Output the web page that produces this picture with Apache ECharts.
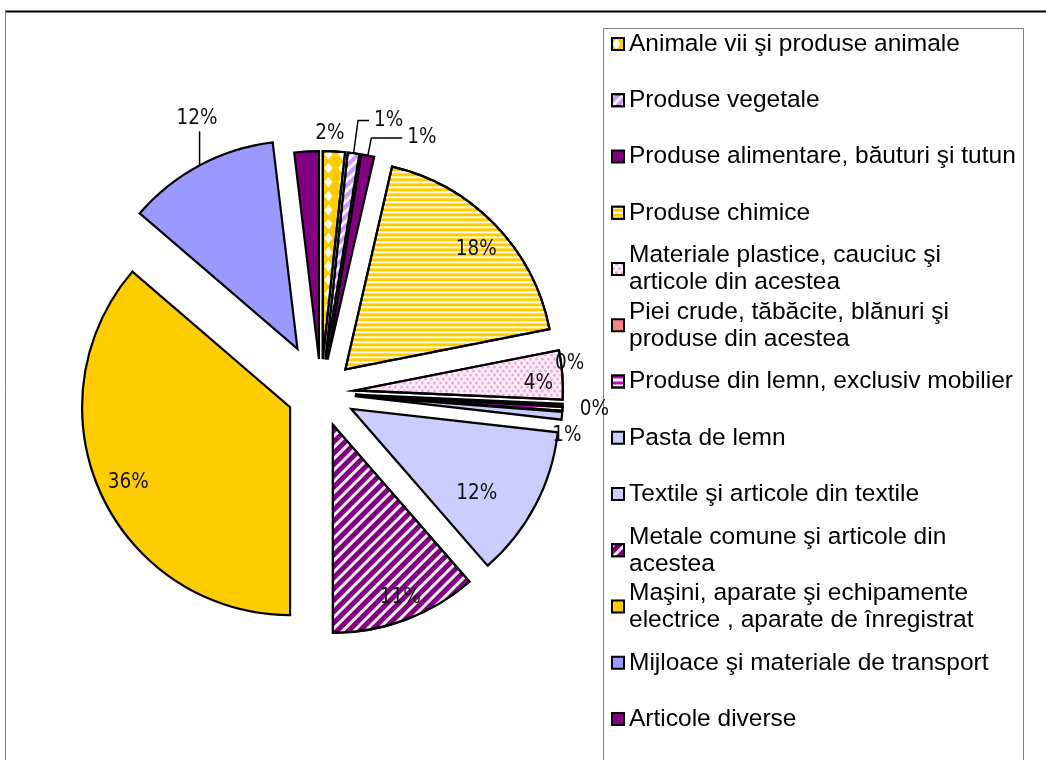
<!DOCTYPE html>
<html>
<head>
<meta charset="utf-8">
<script src="https://cdn.jsdelivr.net/npm/echarts@6/dist/echarts.min.js"></script>
<style>
  html, body { margin: 0; padding: 0; background: #ffffff; }
  #chart { width: 1046px; height: 760px; }
</style>
</head>
<body>
<div id="chart"></div>
<script>
// Commodity groups and their share of the total (%)
const categories = [
  'Animale vii şi produse animale',
  'Produse vegetale',
  'Produse alimentare, băuturi şi tutun',
  'Produse chimice',
  'Materiale plastice, cauciuc şi\narticole din acestea',
  'Piei crude, tăbăcite, blănuri şi\nproduse din acestea',
  'Produse din lemn, exclusiv mobilier',
  'Pasta de lemn',
  'Textile şi articole din textile',
  'Metale comune şi articole din\nacestea',
  'Maşini, aparate şi echipamente\nelectrice , aparate de înregistrat',
  'Mijloace şi materiale de transport',
  'Articole diverse'
];
const shares = [1.7, 0.9, 1.0, 18.3, 3.8, 0.2, 0.3, 0.6, 11.8, 11.4, 36.3, 11.8, 1.9];

// Fill colour and hatch pattern of each slice
const white = 'rgba(255,255,255,0.92)';
const sliceStyles = [
  { color: '#FFCC00', decal: { symbol: 'diamond', symbolSize: 0.9, color: '#FFFFFF', dashArrayX: [9, 5], dashArrayY: [12, 2], rotation: 0 } },
  { color: '#CC99FF', decal: { symbol: 'rect', symbolSize: 1, color: white, dashArrayX: [1, 0], dashArrayY: [3, 4], rotation: -Math.PI / 4 } },
  { color: '#800080' },
  { color: '#FFCC00', decal: { symbol: 'rect', symbolSize: 1, color: white, dashArrayX: [1, 0], dashArrayY: [2, 3], rotation: 0 } },
  { color: '#F8F4FF', decal: { symbol: 'circle', symbolSize: 1, color: '#FF9ACD', dashArrayX: [[3, 3], [0, 3, 3, 0]], dashArrayY: [3, 1], rotation: 0 } },
  { color: '#FF8080' },
  { color: '#FFFFFF', decal: { symbol: 'rect', symbolSize: 1, color: '#CC00CC', dashArrayX: [1, 0], dashArrayY: [3, 3], rotation: 0 } },
  { color: '#CCCCFF' },
  { color: '#CCCCFF' },
  { color: '#800080', decal: { symbol: 'rect', symbolSize: 1, color: white, dashArrayX: [1, 0], dashArrayY: [2.5, 4.5], rotation: -Math.PI / 4 } },
  { color: '#FFCC00' },
  { color: '#9999FF' },
  { color: '#800080' }
];

// How far the slices are pulled out of the pie; one slice is pulled further
const explode = 34;
const explodeFar = 50;
const farSlice = 11;

// Where each percentage label sits: inner ring, outer ring, leader line, or hidden
const labelPlacement = [
  { ring: 'outer', dx: -5, dy: 0 },
  { ring: 'leader', length: 33, length2: 11 },
  { ring: 'leader', length: 18, length2: 31 },
  { ring: 'inner', dx: 3, dy: 4 },
  { ring: 'inner', dx: 6, dy: 7 },
  { ring: 'outer', dx: -11, dy: -42 },
  { ring: 'outer', dx: 14, dy: 0 },
  { ring: 'outer', dx: -13, dy: 18 },
  { ring: 'inner', dx: -32, dy: 2 },
  { ring: 'inner', dx: 5, dy: 6 },
  { ring: 'inner', dx: 0, dy: 1 },
  { ring: 'leader', length: 36, length2: 0, rise: 34, dx: 40, dy: -15 },
  { ring: 'none' }
];

const pieCenter = [321, 393];
const pieRadius = 208;

const labelFont = {
  fontFamily: "'Liberation Sans Narrow', 'Arial Narrow', 'DejaVu Sans Condensed', sans-serif",
  fontSize: 20.5,
  color: '#111111'
};
const pctText = p => Math.round(p.value) + '%';
const hidden = { color: 'rgba(0,0,0,0)', borderWidth: 0 };

// Transparent twin of the pie, used only to place labels at a given distance from each slice tip
function labelRing(ring, dist) {
  return {
    type: 'pie',
    name: 'labels-' + ring,
    center: pieCenter,
    radius: [0, 2 * (dist - 3)],
    startAngle: 90,
    clockwise: true,
    selectedMode: 'multiple',
    selectedOffset: explode,
    silent: true,
    animation: false,
    avoidLabelOverlap: false,
    z: 5,
    itemStyle: hidden,
    label: Object.assign({ show: true, position: 'inside', formatter: pctText }, labelFont),
    labelLine: { show: false },
    emphasis: { disabled: true },
    labelLayout: p => ({ dx: labelPlacement[p.dataIndex].dx || 0, dy: labelPlacement[p.dataIndex].dy || 0 }),
    data: categories.map((name, i) => ({
      name,
      value: shares[i],
      selected: true,
      label: { show: labelPlacement[i].ring === ring }
    }))
  };
}

// Leader-line labels; a "rise" turns the line into a vertical stroke below the text
function leaderLayout(p) {
  const lp = labelPlacement[p.dataIndex];
  if (!lp || lp.ring !== 'leader') return {};
  const out = { dx: lp.dx || 0, dy: lp.dy || 0 };
  if (lp.rise && p.labelLinePoints) {
    const p0 = p.labelLinePoints[0];
    const top = [p0[0], p0[1] - lp.rise];
    out.labelLinePoints = [p0, top, top];
  }
  return out;
}

// One drawn layer of the pie: slices for which `drawn(i)` holds are painted, the rest stay empty
function pieLayer(name, offset, drawn) {
  return {
    type: 'pie',
    name,
    center: pieCenter,
    radius: pieRadius,
    startAngle: 90,
    clockwise: true,
    selectedMode: 'multiple',
    selectedOffset: offset,
    animation: false,
    avoidLabelOverlap: false,
    itemStyle: { borderColor: '#000000', borderWidth: 2.2, borderJoin: 'miter' },
    emphasis: { disabled: true },
    label: Object.assign({ show: false, formatter: pctText }, labelFont),
    labelLine: { show: false },
    labelLayout: leaderLayout,
    data: categories.map((name, i) => {
      const lp = labelPlacement[i];
      const on = drawn(i);
      const leader = on && lp.ring === 'leader';
      const style = on ? Object.assign({ borderColor: '#000000', borderWidth: 2.2 }, sliceStyles[i]) : hidden;
      return {
        name,
        value: shares[i],
        selected: true,
        itemStyle: style,
        select: { itemStyle: style },
        label: { show: leader, position: 'outside' },
        labelLine: leader
          ? { show: true, length: lp.length, length2: lp.length2, lineStyle: { color: '#000000', width: 1.5 } }
          : { show: false }
      };
    })
  };
}

const legendItemLine = 27;
const chart = echarts.init(document.getElementById('chart'), null, { renderer: 'canvas' });
chart.setOption({
  backgroundColor: '#ffffff',
  animation: false,
  graphic: [
    { type: 'line', shape: { x1: 5, y1: 11.5, x2: 1046, y2: 11.5 }, style: { stroke: '#000000', lineWidth: 2 }, silent: true },
    { type: 'line', shape: { x1: 5.5, y1: 11, x2: 5.5, y2: 760 }, style: { stroke: '#808080', lineWidth: 1 }, silent: true },
    { type: 'rect', shape: { x: 603.5, y: 28.5, width: 420, height: 800 }, style: { fill: 'none', stroke: '#808080', lineWidth: 1 }, silent: true }
  ],
  legend: {
    orient: 'vertical',
    left: 611,
    top: 3.5,
    height: 1200,
    padding: 0,
    itemGap: 56.25 - 3 * legendItemLine,
    itemWidth: 12,
    itemHeight: 12,
    icon: 'rect',
    selectedMode: false,
    itemStyle: { borderColor: '#000000', borderWidth: 2 },
    textStyle: {
      fontFamily: "'Liberation Sans', Arial, sans-serif",
      fontSize: 24.5,
      color: '#000000',
      lineHeight: legendItemLine
    },
    data: categories.map((name, i) => {
      const item = {
        name,
        textStyle: {
          padding: name.indexOf('\n') >= 0
            ? [legendItemLine, 0, 0, 0]
            : [legendItemLine, 0, legendItemLine, 0]
        }
      };
      if (i === farSlice) item.itemStyle = { color: sliceStyles[i].color, borderColor: '#000000', borderWidth: 2 };
      return item;
    })
  },
  series: [
    pieLayer('Structura', explode, i => i !== farSlice),
    pieLayer('Structura-departe', explodeFar, i => i === farSlice),
    labelRing('inner', 178),
    labelRing('outer', 226)
  ]
});
</script>
</body>
</html>
